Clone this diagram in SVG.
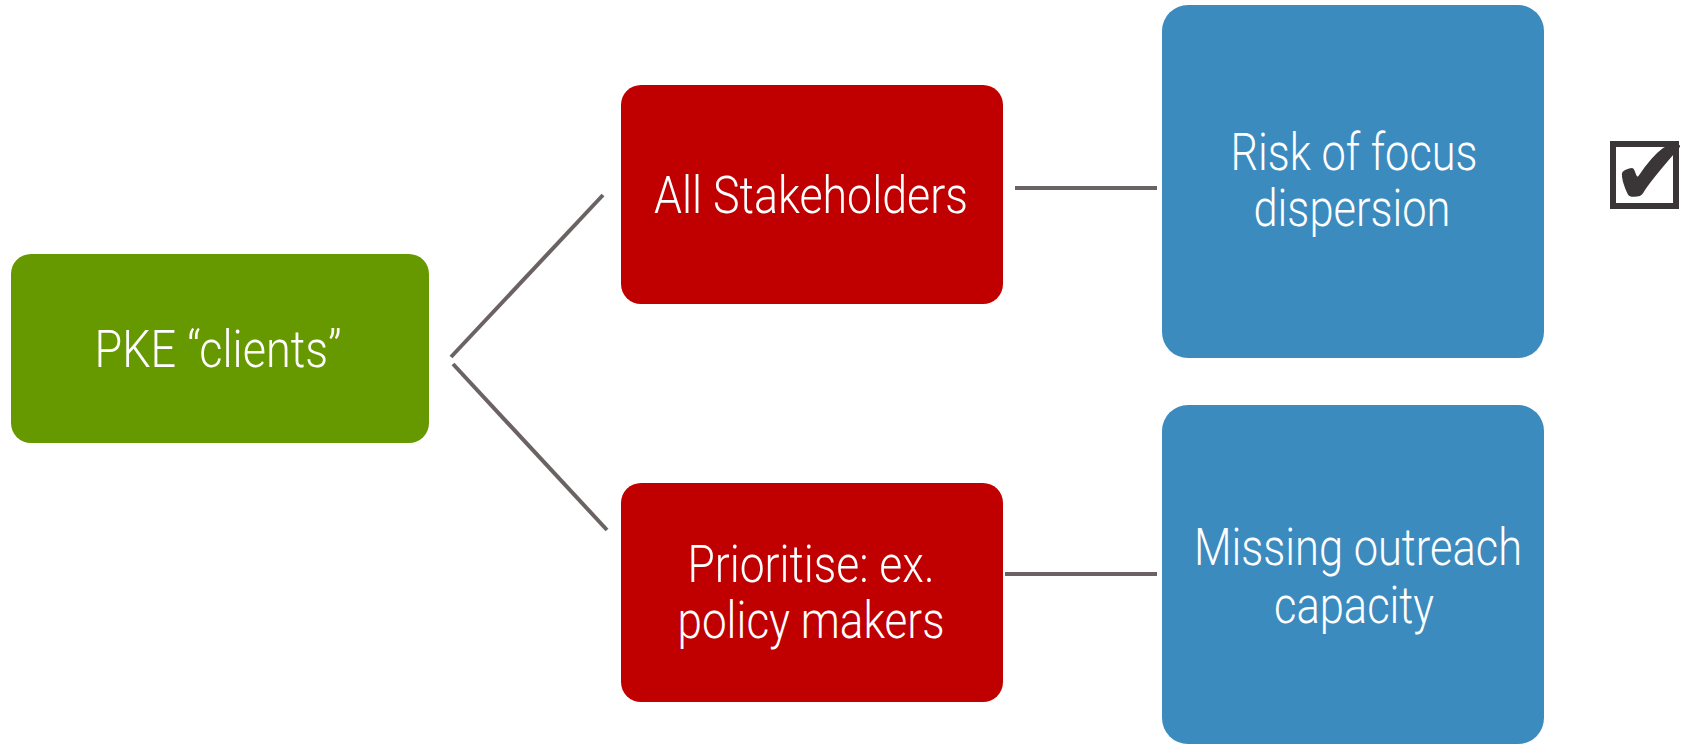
<svg xmlns="http://www.w3.org/2000/svg" width="1691" height="748" viewBox="0 0 1691 748">
<style>
.t{font-family:Roboto,"Liberation Sans Narrow","Liberation Sans",Arial,sans-serif;font-weight:300;font-size:52px;fill:#ffffff;text-anchor:middle}
.c{stroke:#6b6263;stroke-width:4;fill:none}
</style>
<rect width="1691" height="748" fill="#ffffff"/>
<g id="connectors">
<line class="c" x1="451" y1="357" x2="603" y2="195"/>
<line class="c" x1="453" y1="364" x2="607" y2="530"/>
<line class="c" x1="1015" y1="188" x2="1157" y2="188"/>
<line class="c" x1="1005" y1="574" x2="1157" y2="574"/>
</g>
<g id="pke">
<rect x="11" y="254" width="418" height="189" rx="20" fill="#669900"/>
<text class="t" x="218" y="367" textLength="247" lengthAdjust="spacingAndGlyphs">PKE “clients”</text>
</g>
<g id="all">
<rect x="621" y="85" width="382" height="219" rx="20" fill="#c00000"/>
<text class="t" x="811" y="213" textLength="314" lengthAdjust="spacingAndGlyphs">All Stakeholders</text>
</g>
<g id="prio">
<rect x="621" y="483" width="382" height="219" rx="20" fill="#c00000"/>
<text class="t" x="811" y="582" textLength="247" lengthAdjust="spacingAndGlyphs">Prioritise: ex.</text>
<text class="t" x="811" y="638" textLength="267" lengthAdjust="spacingAndGlyphs">policy makers</text>
</g>
<g id="risk">
<rect x="1162" y="5" width="382" height="353" rx="26" fill="#3b8bbf"/>
<text class="t" x="1354" y="170" textLength="247" lengthAdjust="spacingAndGlyphs">Risk of focus</text>
<text class="t" x="1352" y="226" textLength="197" lengthAdjust="spacingAndGlyphs">dispersion</text>
</g>
<g id="missing">
<rect x="1162" y="405" width="382" height="339" rx="26" fill="#3b8bbf"/>
<text class="t" x="1358" y="565" textLength="328" lengthAdjust="spacingAndGlyphs">Missing outreach</text>
<text class="t" x="1354" y="623" textLength="160" lengthAdjust="spacingAndGlyphs">capacity</text>
</g>
<g id="check">
<rect x="1613" y="144" width="63" height="62" fill="none" stroke="#3a3536" stroke-width="6"/>
<text x="1651" y="205" font-family="DejaVu Sans,sans-serif" font-size="96" fill="#3a3536" text-anchor="middle">✔</text>
</g>
</svg>
